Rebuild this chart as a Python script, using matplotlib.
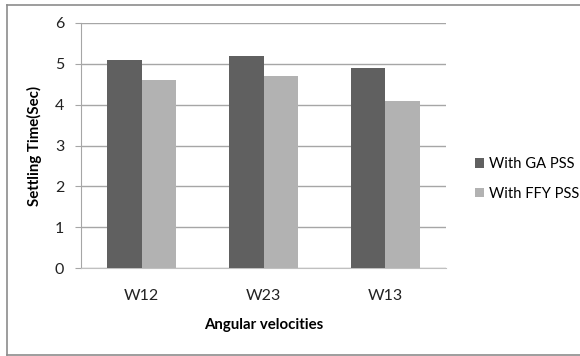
import matplotlib
matplotlib.use("Agg")
import matplotlib.pyplot as plt
import numpy as np
from matplotlib.lines import Line2D
from matplotlib.patches import Patch

categories = ["W12", "W23", "W13"]
ga_pss = [5.1, 5.2, 4.9]
ffy_pss = [4.6, 4.7, 4.1]
series_names = ["With GA PSS", "With FFY PSS"]
y_ticks = [0, 1, 2, 3, 4, 5, 6]

plt.rcParams['font.family'] = ['Lato', 'DejaVu Sans']

fig = plt.figure(figsize=(5.8, 3.56), dpi=100)
ax = fig.add_axes([81 / 580, 1 - 268 / 356, 365 / 580, 245 / 356])

x = np.arange(len(categories))
w = 0.284
dark = "#606060"
light = "#b2b2b2"
ax.bar(x - w / 2, ga_pss, width=w, color=dark, zorder=3)
ax.bar(x + w / 2, ffy_pss, width=w, color=light, zorder=3)

ax.set_xlim(-0.5, 2.5)
ax.set_ylim(0, 6)
ax.set_yticks(y_ticks)
ax.set_xticks(x)
ax.set_xticklabels(categories)
ax.yaxis.grid(True, color="#a6a6a6", linewidth=1.0, zorder=0)
ax.set_axisbelow(True)

for side in ["top", "right"]:
    ax.spines[side].set_visible(False)
ax.spines["left"].set_color("#a6a6a6")
ax.spines["bottom"].set_color("#c0c0c0")
ax.tick_params(axis="y", length=4, color="#a6a6a6", labelsize=11.5, labelcolor="#222222", pad=8)
ax.tick_params(axis="x", length=0, labelsize=11.5, labelcolor="#222222", pad=15)

ax.set_ylabel("Settling Time(Sec)", fontsize=10.8, fontweight="bold", labelpad=9)
ax.set_xlabel("Angular velocities", fontsize=10.8, fontweight="bold", labelpad=11)

handles = [Patch(facecolor=dark), Patch(facecolor=light)]
fig.legend(handles, series_names, loc="center left", bbox_to_anchor=(475 / 580, 1 - 179 / 356),
           frameon=False, fontsize=10.6, handlelength=0.62, handleheight=0.62,
           handletextpad=0.3, labelspacing=1.05, borderpad=0, borderaxespad=0)

# outer chart-area border (top, left, bottom)
frame_color = "#8c8c8c"
fig.add_artist(Line2D([7 / 580, 1.0], [1 - 4.5 / 356] * 2, color=frame_color, lw=1.2, transform=fig.transFigure))
fig.add_artist(Line2D([7 / 580] * 2, [1 - 4.5 / 356, 1 - 354.5 / 356], color=frame_color, lw=1.2, transform=fig.transFigure))
fig.add_artist(Line2D([7 / 580, 1.0], [1 - 354.5 / 356] * 2, color=frame_color, lw=1.2, transform=fig.transFigure))

fig.savefig("out.png", dpi=100)
